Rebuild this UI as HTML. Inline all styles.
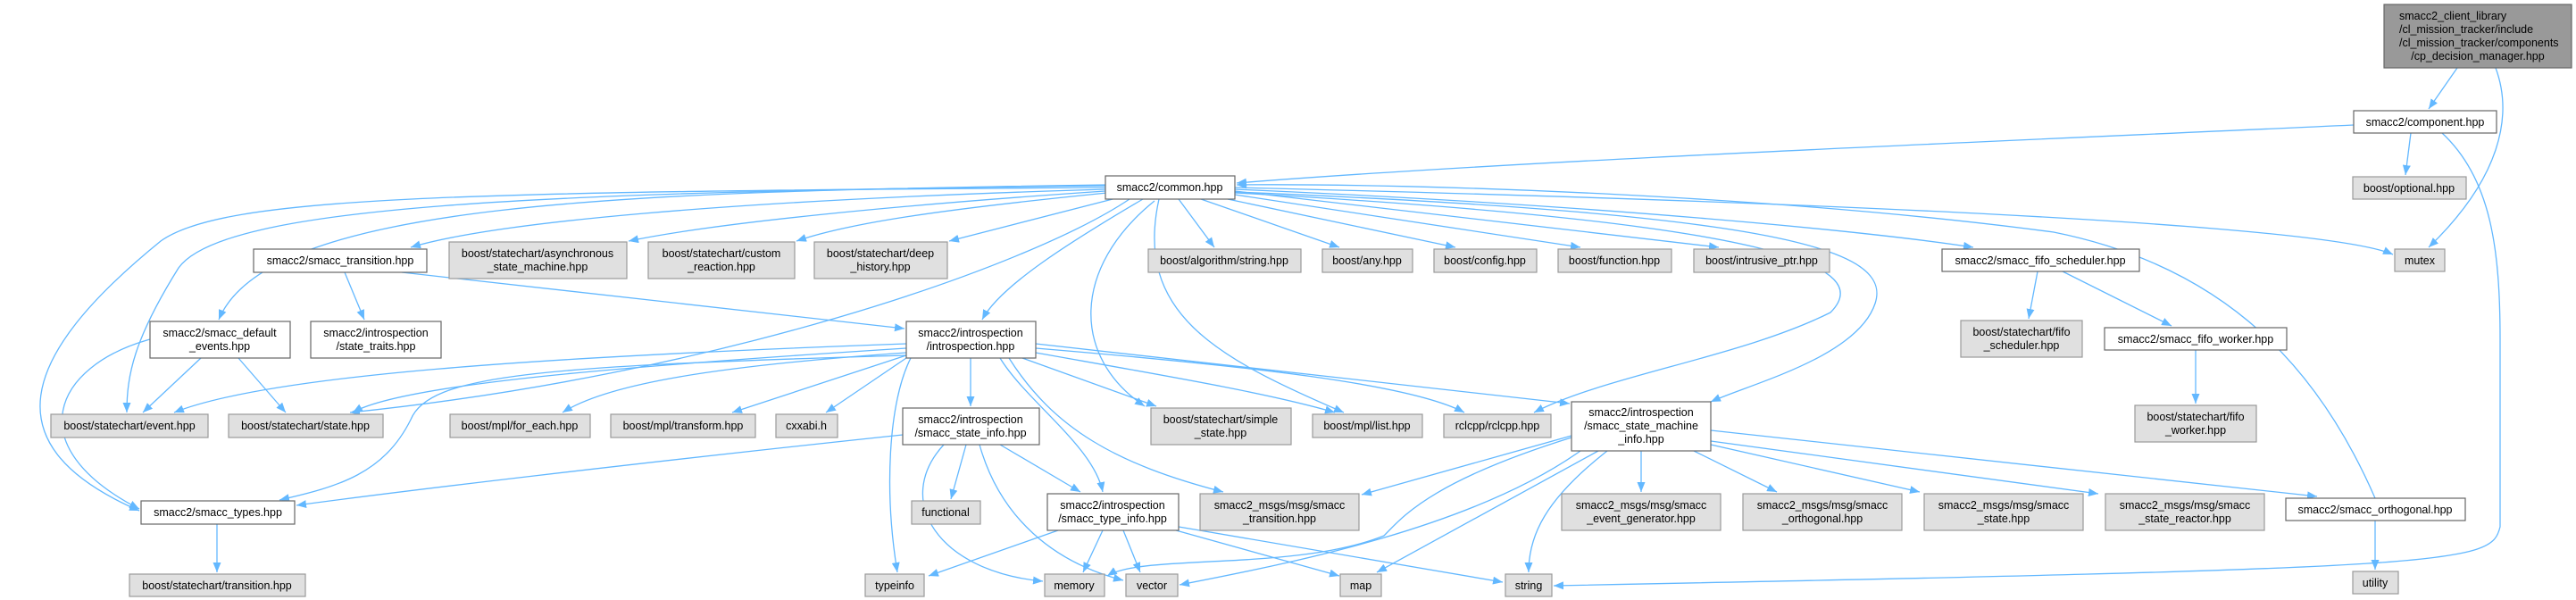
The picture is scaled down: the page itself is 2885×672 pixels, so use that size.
<!DOCTYPE html>
<html><head><meta charset="utf-8">
<style>
html,body{margin:0;padding:0;background:#fff;}
svg{display:block;}
text{font-family:"Liberation Sans",Helvetica,Arial,sans-serif;font-size:12.5px;fill:#000;}
.e{fill:none;stroke:#63b8ff;stroke-width:1.3;marker-end:url(#a);}
.w{fill:#fff;stroke:#666;stroke-width:1.2;}
.g{fill:#e0e0e0;stroke:#999;stroke-width:1.2;}
.t{fill:#999;stroke:#666;stroke-width:1.2;}
</style></head><body>
<svg width="2885" height="672" viewBox="0 0 2885 672" xmlns="http://www.w3.org/2000/svg">
<defs><marker id="a" markerUnits="userSpaceOnUse" markerWidth="12" markerHeight="9" refX="11" refY="4.5" orient="auto"><path d="M0,0 L11,4.5 L0,9 z" fill="#63b8ff"/></marker></defs>
<g>
<path class="e" d="M2752,76 L2720,122"/>
<path class="e" d="M2795,76 C2815,130 2800,200 2720,277"/>
<path class="e" d="M2636,140 C2200,160 1700,180 1385,205"/>
<path class="e" d="M2700,149 L2694,196"/>
<path class="e" d="M2735,149 C2790,200 2800,280 2800,380 L2800,590 C2790,632 2760,636 1740,656"/>
<path class="e" d="M1238,212 C800,225 550,250 460,277"/>
<path class="e" d="M1238,214 C1000,230 800,250 704,270"/>
<path class="e" d="M1240,216 C1050,235 950,250 892,270"/>
<path class="e" d="M1250,222 L1063,270"/>
<path class="e" d="M1320,223 L1360,277"/>
<path class="e" d="M1345,223 L1500,277"/>
<path class="e" d="M1375,223 L1630,277"/>
<path class="e" d="M1383,218 L1770,277"/>
<path class="e" d="M1383,214 L1925,277"/>
<path class="e" d="M1383,212 C1800,230 2100,260 2210,277"/>
<path class="e" d="M1383,210 C2000,225 2600,250 2680,285"/>
<path class="e" d="M1238,207 C700,215 300,225 245,358"/>
<path class="e" d="M1238,208 C600,215 250,230 200,300 C150,380 142,420 142,462"/>
<path class="e" d="M1238,210 C500,215 250,220 180,270 C20,400 -10,500 156,572"/>
<path class="e" d="M1265,223 C1150,300 800,420 392,462"/>
<path class="e" d="M1280,223 C1200,270 1120,320 1100,358"/>
<path class="e" d="M1293,225 C1200,300 1200,400 1282,455"/>
<path class="e" d="M1298,223 C1270,350 1360,400 1505,462"/>
<path class="e" d="M1383,216 C2000,250 2100,300 2050,350 C1950,400 1800,420 1718,462"/>
<path class="e" d="M1383,215 C2000,240 2120,280 2100,340 C2080,400 1960,430 1916,450"/>
<path class="e" d="M2660,558 C2600,420 2500,300 2300,260 C2000,220 1600,205 1385,207"/>
<path class="e" d="M386,305 L408,358"/>
<path class="e" d="M450,305 L1013,368"/>
<path class="e" d="M225,401 L160,462"/>
<path class="e" d="M267,401 L320,462"/>
<path class="e" d="M168,380 C60,410 20,500 156,570"/>
<path class="e" d="M243,587 L243,641"/>
<path class="e" d="M1015,385 C600,400 300,420 195,462"/>
<path class="e" d="M1015,390 C700,410 450,430 395,462"/>
<path class="e" d="M1015,395 C800,410 680,430 630,462"/>
<path class="e" d="M1015,398 L820,462"/>
<path class="e" d="M1015,401 L925,462"/>
<path class="e" d="M1015,398 C600,410 480,420 460,470 C430,530 380,545 313,560"/>
<path class="e" d="M1020,401 C995,450 990,550 1005,641"/>
<path class="e" d="M1011,487 C700,520 450,550 332,566"/>
<path class="e" d="M1087,401 L1087,455"/>
<path class="e" d="M1120,401 C1150,450 1225,500 1235,551"/>
<path class="e" d="M1145,401 L1295,455"/>
<path class="e" d="M1130,401 C1180,480 1250,520 1370,551"/>
<path class="e" d="M1160,395 C1300,420 1420,440 1495,462"/>
<path class="e" d="M1160,390 C1400,410 1580,430 1640,462"/>
<path class="e" d="M1160,385 L1758,452"/>
<path class="e" d="M1082,498 L1065,559"/>
<path class="e" d="M1120,498 L1210,551"/>
<path class="e" d="M1057,498 C1000,560 1050,640 1168,651"/>
<path class="e" d="M1097,498 C1120,580 1180,630 1258,650"/>
<path class="e" d="M1185,594 L1040,645"/>
<path class="e" d="M1235,594 L1213,641"/>
<path class="e" d="M1258,594 L1277,641"/>
<path class="e" d="M1317,594 L1500,645"/>
<path class="e" d="M1320,590 L1683,652"/>
<path class="e" d="M1760,488 L1525,554"/>
<path class="e" d="M1760,490 C1600,540 1570,580 1550,600 C1450,640 1280,620 1240,645"/>
<path class="e" d="M1770,505 C1650,590 1450,630 1321,655"/>
<path class="e" d="M1790,505 L1542,641"/>
<path class="e" d="M1800,505 C1730,560 1712,600 1712,641"/>
<path class="e" d="M1838,505 L1838,551"/>
<path class="e" d="M1897,505 L1990,551"/>
<path class="e" d="M1916,498 L2150,551"/>
<path class="e" d="M1916,494 L2350,553"/>
<path class="e" d="M1916,482 L2595,556"/>
<path class="e" d="M2660,583 L2660,638"/>
<path class="e" d="M2282,304 L2272,357"/>
<path class="e" d="M2310,304 L2432,365"/>
<path class="e" d="M2459,392 L2459,452"/>
</g>
<g text-anchor="middle">
<rect class="t" x="2670" y="5" width="210" height="71"/>
<text x="2775" y="22"><tspan x="2687" text-anchor="start">smacc2_client_library</tspan><tspan x="2687" dy="15" text-anchor="start">/cl_mission_tracker/include</tspan><tspan x="2687" dy="15" text-anchor="start">/cl_mission_tracker/components</tspan><tspan x="2775" dy="15">/cp_decision_manager.hpp</tspan></text>

<rect class="w" x="2636" y="124" width="160" height="25"/><text x="2716" y="141">smacc2/component.hpp</text>
<rect class="g" x="2635" y="198" width="127" height="25"/><text x="2698" y="215">boost/optional.hpp</text>
<rect class="g" x="2682" y="279" width="56" height="25"/><text x="2710" y="296">mutex</text>
<rect class="w" x="1238" y="197" width="145" height="26"/><text x="1310" y="214">smacc2/common.hpp</text>
<rect class="w" x="284" y="279" width="194" height="26"/><text x="381" y="296">smacc2/smacc_transition.hpp</text>
<rect class="g" x="503" y="271" width="199" height="41"/><text x="602" y="288">boost/statechart/asynchronous<tspan x="602" dy="15">_state_machine.hpp</tspan></text>
<rect class="g" x="726" y="271" width="164" height="41"/><text x="808" y="288">boost/statechart/custom<tspan x="808" dy="15">_reaction.hpp</tspan></text>
<rect class="g" x="912" y="271" width="149" height="41"/><text x="986" y="288">boost/statechart/deep<tspan x="986" dy="15">_history.hpp</tspan></text>
<rect class="g" x="1286" y="279" width="171" height="26"/><text x="1371" y="296">boost/algorithm/string.hpp</text>
<rect class="g" x="1481" y="279" width="101" height="26"/><text x="1531" y="296">boost/any.hpp</text>
<rect class="g" x="1606" y="279" width="115" height="26"/><text x="1663" y="296">boost/config.hpp</text>
<rect class="g" x="1745" y="279" width="127" height="26"/><text x="1808" y="296">boost/function.hpp</text>
<rect class="g" x="1897" y="279" width="152" height="26"/><text x="1973" y="296">boost/intrusive_ptr.hpp</text>
<rect class="w" x="2175" y="279" width="221" height="25"/><text x="2285" y="296">smacc2/smacc_fifo_scheduler.hpp</text>
<rect class="w" x="168" y="360" width="157" height="41"/><text x="246" y="377">smacc2/smacc_default<tspan x="246" dy="15">_events.hpp</tspan></text>
<rect class="w" x="348" y="360" width="146" height="41"/><text x="421" y="377">smacc2/introspection<tspan x="421" dy="15">/state_traits.hpp</tspan></text>
<rect class="w" x="1015" y="360" width="145" height="41"/><text x="1087" y="377">smacc2/introspection<tspan x="1087" dy="15">/introspection.hpp</tspan></text>
<rect class="g" x="2196" y="359" width="136" height="41"/><text x="2264" y="376">boost/statechart/fifo<tspan x="2264" dy="15">_scheduler.hpp</tspan></text>
<rect class="w" x="2357" y="367" width="204" height="25"/><text x="2459" y="384">smacc2/smacc_fifo_worker.hpp</text>
<rect class="g" x="57" y="464" width="176" height="26"/><text x="145" y="481">boost/statechart/event.hpp</text>
<rect class="g" x="256" y="464" width="173" height="26"/><text x="342" y="481">boost/statechart/state.hpp</text>
<rect class="g" x="504" y="464" width="157" height="26"/><text x="582" y="481">boost/mpl/for_each.hpp</text>
<rect class="g" x="684" y="464" width="162" height="26"/><text x="765" y="481">boost/mpl/transform.hpp</text>
<rect class="g" x="869" y="464" width="69" height="26"/><text x="903" y="481">cxxabi.h</text>
<rect class="w" x="1011" y="457" width="153" height="41"/><text x="1087" y="474">smacc2/introspection<tspan x="1087" dy="15">/smacc_state_info.hpp</tspan></text>
<rect class="g" x="1289" y="457" width="157" height="41"/><text x="1367" y="474">boost/statechart/simple<tspan x="1367" dy="15">_state.hpp</tspan></text>
<rect class="g" x="1470" y="464" width="123" height="26"/><text x="1531" y="481">boost/mpl/list.hpp</text>
<rect class="g" x="1617" y="464" width="120" height="26"/><text x="1677" y="481">rclcpp/rclcpp.hpp</text>
<rect class="w" x="1760" y="450" width="156" height="55"/><text x="1838" y="466">smacc2/introspection<tspan x="1838" dy="15">/smacc_state_machine</tspan><tspan x="1838" dy="15">_info.hpp</tspan></text>
<rect class="g" x="2391" y="454" width="136" height="41"/><text x="2459" y="471">boost/statechart/fifo<tspan x="2459" dy="15">_worker.hpp</tspan></text>
<rect class="w" x="158" y="561" width="172" height="26"/><text x="244" y="578">smacc2/smacc_types.hpp</text>
<rect class="g" x="1021" y="561" width="77" height="26"/><text x="1059" y="578">functional</text>
<rect class="w" x="1173" y="553" width="147" height="41"/><text x="1246" y="570">smacc2/introspection<tspan x="1246" dy="15">/smacc_type_info.hpp</tspan></text>
<rect class="g" x="1344" y="553" width="178" height="41"/><text x="1433" y="570">smacc2_msgs/msg/smacc<tspan x="1433" dy="15">_transition.hpp</tspan></text>
<rect class="g" x="1749" y="553" width="178" height="41"/><text x="1838" y="570">smacc2_msgs/msg/smacc<tspan x="1838" dy="15">_event_generator.hpp</tspan></text>
<rect class="g" x="1952" y="553" width="178" height="41"/><text x="2041" y="570">smacc2_msgs/msg/smacc<tspan x="2041" dy="15">_orthogonal.hpp</tspan></text>
<rect class="g" x="2155" y="553" width="178" height="41"/><text x="2244" y="570">smacc2_msgs/msg/smacc<tspan x="2244" dy="15">_state.hpp</tspan></text>
<rect class="g" x="2358" y="553" width="178" height="41"/><text x="2447" y="570">smacc2_msgs/msg/smacc<tspan x="2447" dy="15">_state_reactor.hpp</tspan></text>
<rect class="w" x="2560" y="558" width="201" height="25"/><text x="2660" y="575">smacc2/smacc_orthogonal.hpp</text>
<rect class="g" x="145" y="643" width="197" height="25"/><text x="243" y="660">boost/statechart/transition.hpp</text>
<rect class="g" x="969" y="643" width="66" height="25"/><text x="1002" y="660">typeinfo</text>
<rect class="g" x="1170" y="643" width="67" height="25"/><text x="1203" y="660">memory</text>
<rect class="g" x="1261" y="643" width="58" height="25"/><text x="1290" y="660">vector</text>
<rect class="g" x="1501" y="643" width="46" height="25"/><text x="1524" y="660">map</text>
<rect class="g" x="1686" y="643" width="52" height="25"/><text x="1712" y="660">string</text>
<rect class="g" x="2635" y="640" width="51" height="25"/><text x="2660" y="657">utility</text>
</g>
</svg>
</body></html>
